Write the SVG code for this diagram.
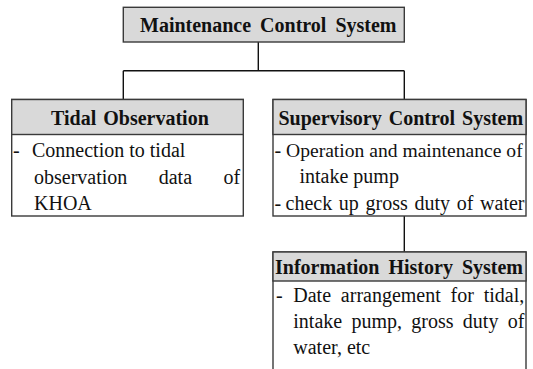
<svg xmlns="http://www.w3.org/2000/svg" width="533" height="369" viewBox="0 0 533 369">
<style>
.box{fill:#ffffff;stroke:#3a3a3a;stroke-width:1.4}
.hdr{fill:#d9d9d9;stroke:#3a3a3a;stroke-width:1.4}
text{font-family:'Liberation Serif','Times New Roman',serif;fill:#111}
.h{font-weight:bold;font-size:20px;word-spacing:4px}
.b{font-size:20px}
.c{fill:none;stroke:#111;stroke-width:1.4}
</style>
<rect width="533" height="369" fill="#ffffff"/>
<g id="connectors">
<path class="c" d="M258.3 42 V70.7 M123.3 70.7 H404.3 M123.3 70.7 V99.5 M404.3 70.7 V99.5 M404.3 216 V252"/>
</g>
<g id="maintenance-control-system">
<rect class="hdr" x="123.3" y="7.3" width="281" height="34.7"/>
<text class="h" x="140" y="32">Maintenance Control System</text>
</g>
<g id="tidal-observation">
<rect class="box" x="11.7" y="99.5" width="231.6" height="116.5"/>
<rect class="hdr" x="11.7" y="99.5" width="231.6" height="35"/>
<text class="h" x="51" y="125" style="word-spacing:2px">Tidal Observation</text>
<text class="b" y="157"><tspan x="13">-</tspan><tspan x="32">Connection to tidal</tspan></text>
<text class="b" x="34" y="184" style="word-spacing:26.4px">observation data of</text>
<text class="b" x="34" y="210">KHOA</text>
</g>
<g id="supervisory-control-system">
<rect class="box" x="273" y="99.5" width="253" height="116.5"/>
<rect class="hdr" x="273" y="99.5" width="253" height="35"/>
<text class="h" x="278.4" y="125" style="word-spacing:2px">Supervisory Control System</text>
<text class="b" y="157"><tspan x="274.5">-</tspan><tspan x="286" style="font-size:19.6px">Operation and maintenance of</tspan></text>
<text class="b" x="299.5" y="183">intake pump</text>
<text class="b" y="210"><tspan x="274.5">-</tspan><tspan x="285.5" style="word-spacing:1.7px">check up gross duty of water</tspan></text>
</g>
<g id="information-history-system">
<path class="box" d="M273 375 V252 H526 V375"/>
<rect class="hdr" x="273" y="252" width="253" height="29"/>
<text class="h" x="275" y="273.5">Information History System</text>
<text class="b" y="302"><tspan x="276">-</tspan><tspan x="293.3" style="word-spacing:4.8px">Date arrangement for tidal,</tspan></text>
<text class="b" x="293.3" y="328" style="word-spacing:4.3px">intake pump, gross duty of</text>
<text class="b" x="293.3" y="354">water, etc</text>
</g>
</svg>
